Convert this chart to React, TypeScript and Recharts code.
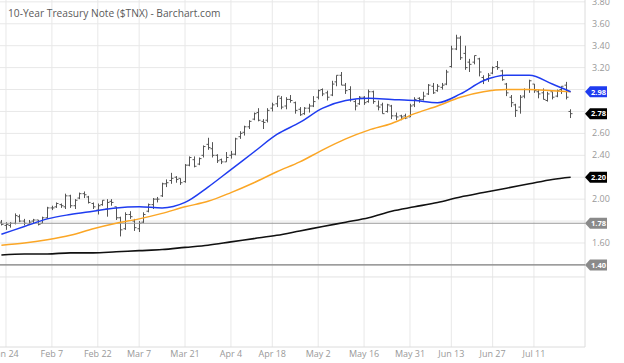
import React from 'react';
import { ComposedChart, Bar, Line, XAxis, YAxis, CartesianGrid, ReferenceLine } from 'recharts';

// daily bars, Jan 21 - Jul 21
const dates = [
  'Jan 21', 'Jan 24', 'Jan 25', 'Jan 26', 'Jan 27', 'Jan 28', 'Jan 31',
  'Feb 1', 'Feb 2', 'Feb 3', 'Feb 4', 'Feb 7', 'Feb 8', 'Feb 9', 'Feb 10', 'Feb 11', 'Feb 14', 'Feb 15', 'Feb 16', 'Feb 17', 'Feb 18', 'Feb 22', 'Feb 23', 'Feb 24', 'Feb 25', 'Feb 28',
  'Mar 1', 'Mar 2', 'Mar 3', 'Mar 4', 'Mar 7', 'Mar 8', 'Mar 9', 'Mar 10', 'Mar 11', 'Mar 14', 'Mar 15', 'Mar 16', 'Mar 17', 'Mar 18', 'Mar 21', 'Mar 22', 'Mar 23', 'Mar 24', 'Mar 25', 'Mar 28', 'Mar 29', 'Mar 30', 'Mar 31',
  'Apr 1', 'Apr 4', 'Apr 5', 'Apr 6', 'Apr 7', 'Apr 8', 'Apr 11', 'Apr 12', 'Apr 13', 'Apr 14', 'Apr 18', 'Apr 19', 'Apr 20', 'Apr 21', 'Apr 22', 'Apr 25', 'Apr 26', 'Apr 27', 'Apr 28', 'Apr 29',
  'May 2', 'May 3', 'May 4', 'May 5', 'May 6', 'May 9', 'May 10', 'May 11', 'May 12', 'May 13', 'May 16', 'May 17', 'May 18', 'May 19', 'May 20', 'May 23', 'May 24', 'May 25', 'May 26', 'May 27', 'May 31',
  'Jun 1', 'Jun 2', 'Jun 3', 'Jun 6', 'Jun 7', 'Jun 8', 'Jun 9', 'Jun 10', 'Jun 13', 'Jun 14', 'Jun 15', 'Jun 16', 'Jun 17', 'Jun 21', 'Jun 22', 'Jun 23', 'Jun 24', 'Jun 27', 'Jun 28', 'Jun 29', 'Jun 30',
  'Jul 1', 'Jul 5', 'Jul 6', 'Jul 7', 'Jul 8', 'Jul 11', 'Jul 12', 'Jul 13', 'Jul 14', 'Jul 15', 'Jul 18', 'Jul 19', 'Jul 20', 'Jul 21',
];

const opens = [
  1.79, 1.76, 1.76, 1.78, 1.84, 1.80, 1.77,
  1.80, 1.81, 1.78, 1.83, 1.92, 1.93, 1.95, 1.93, 2.03, 1.94, 2.01, 2.05, 2.02, 1.96, 1.90, 1.95, 1.91, 1.98, 1.93,
  1.83, 1.73, 1.86, 1.80, 1.73, 1.79, 1.89, 1.95, 2.00, 2.03, 2.14, 2.17, 2.20, 2.19, 2.16, 2.31, 2.36, 2.32, 2.40, 2.50, 2.46, 2.40, 2.36,
  2.34, 2.40, 2.41, 2.57, 2.61, 2.66, 2.73, 2.79, 2.71, 2.72, 2.83, 2.87, 2.92, 2.85, 2.91, 2.88, 2.82, 2.78, 2.83, 2.85,
  2.93, 3.00, 2.97, 2.95, 3.07, 3.13, 3.04, 3.00, 2.89, 2.87, 2.93, 2.89, 2.98, 2.85, 2.86, 2.80, 2.85, 2.76, 2.76, 2.76, 2.75,
  2.86, 2.92, 2.91, 2.96, 3.03, 2.99, 3.02, 3.05, 3.21, 3.37, 3.47, 3.33, 3.25, 3.25, 3.28, 3.11, 3.10, 3.15, 3.21, 3.17, 3.05,
  2.93, 2.86, 2.84, 2.94, 3.00, 3.05, 2.98, 2.97, 2.90, 2.98, 2.94, 3.00, 3.04, 2.80,
];

const highs = [
  1.81, 1.79, 1.79, 1.87, 1.86, 1.82, 1.81,
  1.82, 1.81, 1.84, 1.93, 1.94, 1.97, 1.96, 2.05, 2.04, 2.00, 2.06, 2.07, 2.03, 1.97, 1.96, 1.99, 2.00, 2.00, 1.93,
  1.84, 1.88, 1.89, 1.82, 1.80, 1.88, 1.96, 2.01, 2.02, 2.15, 2.18, 2.24, 2.21, 2.19, 2.32, 2.39, 2.39, 2.38, 2.49, 2.56, 2.52, 2.41, 2.37,
  2.43, 2.44, 2.56, 2.62, 2.67, 2.72, 2.79, 2.83, 2.73, 2.83, 2.88, 2.94, 2.94, 2.93, 2.95, 2.89, 2.84, 2.84, 2.87, 2.94,
  3.00, 3.01, 2.99, 3.08, 3.13, 3.16, 3.06, 3.03, 2.91, 2.94, 2.94, 3.00, 2.99, 2.90, 2.88, 2.87, 2.86, 2.79, 2.77, 2.78, 2.87,
  2.93, 2.93, 2.98, 3.05, 3.06, 3.05, 3.06, 3.18, 3.40, 3.50, 3.49, 3.40, 3.28, 3.31, 3.29, 3.13, 3.15, 3.21, 3.26, 3.18, 3.06,
  2.95, 2.87, 2.95, 3.01, 3.09, 3.05, 3.00, 3.01, 2.98, 2.98, 3.00, 3.03, 3.07, 2.82,
];

const lows = [
  1.76, 1.72, 1.74, 1.77, 1.79, 1.76, 1.77,
  1.78, 1.76, 1.78, 1.82, 1.90, 1.92, 1.92, 1.91, 1.92, 1.91, 2.00, 2.01, 1.96, 1.91, 1.86, 1.94, 1.84, 1.94, 1.81,
  1.66, 1.72, 1.82, 1.71, 1.70, 1.78, 1.88, 1.91, 1.97, 2.02, 2.11, 2.14, 2.15, 2.13, 2.15, 2.30, 2.29, 2.31, 2.38, 2.45, 2.38, 2.33, 2.32,
  2.34, 2.37, 2.40, 2.55, 2.58, 2.64, 2.72, 2.71, 2.64, 2.70, 2.80, 2.84, 2.82, 2.82, 2.88, 2.78, 2.76, 2.77, 2.79, 2.84,
  2.91, 2.94, 2.90, 2.94, 3.03, 3.04, 2.96, 2.89, 2.81, 2.86, 2.86, 2.88, 2.87, 2.81, 2.78, 2.79, 2.73, 2.72, 2.72, 2.73, 2.75,
  2.84, 2.88, 2.90, 2.95, 2.96, 2.98, 3.00, 3.04, 3.20, 3.36, 3.27, 3.18, 3.16, 3.23, 3.12, 3.05, 3.07, 3.14, 3.18, 3.08, 2.94,
  2.84, 2.75, 2.78, 2.92, 2.97, 2.97, 2.92, 2.91, 2.89, 2.91, 2.93, 2.96, 2.91, 2.74,
];

const closes = [
  1.77, 1.77, 1.78, 1.85, 1.80, 1.78, 1.79,
  1.81, 1.77, 1.83, 1.92, 1.92, 1.96, 1.94, 2.03, 1.94, 1.99, 2.05, 2.04, 1.97, 1.93, 1.94, 1.99, 1.97, 1.97, 1.83,
  1.72, 1.86, 1.84, 1.74, 1.78, 1.86, 1.95, 2.00, 2.00, 2.14, 2.15, 2.19, 2.18, 2.15, 2.31, 2.38, 2.30, 2.37, 2.48, 2.47, 2.40, 2.35, 2.34,
  2.38, 2.41, 2.55, 2.60, 2.66, 2.71, 2.78, 2.72, 2.70, 2.81, 2.86, 2.94, 2.84, 2.91, 2.90, 2.81, 2.77, 2.83, 2.85, 2.89,
  2.99, 2.96, 2.93, 3.05, 3.13, 3.04, 2.99, 2.91, 2.85, 2.93, 2.88, 2.98, 2.89, 2.84, 2.78, 2.86, 2.76, 2.75, 2.75, 2.74, 2.85,
  2.91, 2.91, 2.94, 3.04, 2.97, 3.03, 3.04, 3.16, 3.37, 3.47, 3.29, 3.20, 3.23, 3.31, 3.16, 3.09, 3.13, 3.20, 3.20, 3.09, 2.97,
  2.88, 2.81, 2.93, 3.00, 3.08, 2.99, 2.96, 2.91, 2.96, 2.93, 2.99, 3.03, 2.93, 2.78,
];

const tickDates = ['Jan 24', 'Feb 7', 'Feb 22', 'Mar 7', 'Mar 21', 'Apr 4', 'Apr 18', 'May 2', 'May 16', 'May 31', 'Jun 13', 'Jun 27', 'Jul 11'];

// moving averages, read every 5 bars
const maBars = [0, 5, 10, 15, 20, 25, 30, 35, 40, 45, 50, 55, 60, 65, 70, 75, 80, 85, 90, 95, 100, 105, 110, 115, 120, 124];
const ma20 = [1.68, 1.75, 1.82, 1.86, 1.89, 1.92, 1.93, 1.92, 1.97, 2.11, 2.27, 2.43, 2.59, 2.70, 2.83, 2.90, 2.92, 2.91, 2.90, 2.88, 2.96, 3.08, 3.13, 3.13, 3.05, 2.98];
const ma50 = [1.58, 1.60, 1.63, 1.67, 1.73, 1.78, 1.82, 1.87, 1.93, 1.98, 2.06, 2.15, 2.25, 2.34, 2.45, 2.55, 2.63, 2.69, 2.78, 2.85, 2.93, 2.98, 3.00, 3.00, 2.99, 2.98];
const ma200 = [1.49, 1.50, 1.50, 1.51, 1.51, 1.52, 1.53, 1.54, 1.56, 1.58, 1.61, 1.64, 1.67, 1.71, 1.75, 1.79, 1.83, 1.89, 1.93, 1.97, 2.02, 2.06, 2.10, 2.14, 2.18, 2.20];

const gridTicks = [1.4, 1.6, 1.8, 2.0, 2.2, 2.4, 2.6, 2.8, 3.0, 3.2, 3.4, 3.6, 3.8];
const labelTicks = [1.6, 2.0, 2.4, 2.6, 3.2, 3.4, 3.6, 3.8];
const levelLines = [1.78, 1.40];
const badgeValues = [2.98, 2.78, 2.20, 1.78, 1.40];
const badgeColors = ['#1f3cf0', '#000000', '#000000', '#8a8a8a', '#8a8a8a'];

const X_MIN = -0.305;
const X_MAX = 127.12;
const Y_MIN = 0.651;
const Y_MAX = 3.817;
const FONT = '"Open Sans", sans-serif';

const bars = dates.map((date, i) => ({
  i,
  date,
  open: opens[i],
  high: highs[i],
  low: lows[i],
  close: closes[i],
  range: [lows[i], highs[i]],
}));

const toLine = (vals: number[]) => maBars.map((i, k) => ({ i, v: vals[k] }));

function OhlcBar(props: any) {
  const { x, y, width, height, payload } = props;
  if (!payload) return null;
  const cx = Math.round(x + width / 2) + 0.5;
  const top = Math.min(y, y + height);
  const h = Math.abs(height);
  const span = payload.high - payload.low;
  const pos = (v: number) => (span > 0 ? top + ((payload.high - v) / span) * h : top);
  return (
    <g stroke="#555" strokeWidth={1}>
      <line x1={cx} x2={cx} y1={top} y2={top + Math.max(h, 1)} />
      <line x1={cx - 2} x2={cx} y1={pos(payload.open)} y2={pos(payload.open)} />
      <line x1={cx} x2={cx + 2} y1={pos(payload.close)} y2={pos(payload.close)} />
    </g>
  );
}

function Badge({ x, y, value, color }: any) {
  const path = `M${x},${y} L${x + 5},${y - 5.5} L${x + 22},${y - 5.5} L${x + 22},${y + 5.5} L${x + 5},${y + 5.5} Z`;
  return (
    <g>
      <path d={path} fill={color} />
      <text x={x + 13.5} y={y + 2.8} fill="#fff" fontSize={7.5} fontWeight={700} textAnchor="middle" fontFamily={FONT}>
        {value.toFixed(2)}
      </text>
    </g>
  );
}

function XTick(props: any) {
  const { x, payload } = props;
  return (
    <text x={x} y={357} fill="#999" fontSize={9} textAnchor="middle" fontFamily={FONT}>
      {dates[payload.value]}
    </text>
  );
}

function YTick(props: any) {
  const { x, y, payload } = props;
  const b = badgeValues.findIndex((v) => Math.abs(v - payload.value) < 1e-6);
  if (b >= 0) return <Badge x={x - 7} y={y} value={badgeValues[b]} color={badgeColors[b]} />;
  return (
    <text x={x} y={y + 3} fill="#999" fontSize={9} textAnchor="start" fontFamily={FONT}>
      {payload.value.toFixed(2)}
    </text>
  );
}

export default function App() {
  const xTicks = tickDates.map((d) => dates.indexOf(d));
  const yTicks = [...labelTicks, ...badgeValues].sort((a, b) => a - b);

  return (
    <div style={{ position: 'relative', width: 624, height: 363, background: '#fff' }}>
      <style>{'body{margin:0}'}</style>
      <ComposedChart width={624} height={363} data={bars} margin={{ top: 0, right: 0, bottom: 0, left: 0 }}>
        <CartesianGrid stroke="#e8e8e8" horizontalValues={gridTicks} verticalValues={xTicks} />
        <XAxis
          dataKey="i"
          type="number"
          domain={[X_MIN, X_MAX]}
          ticks={xTicks}
          interval={0}
          tick={<XTick />}
          tickLine={false}
          axisLine={false}
          height={16}
          allowDataOverflow
        />
        <YAxis
          orientation="right"
          type="number"
          domain={[Y_MIN, Y_MAX]}
          ticks={yTicks}
          interval={0}
          tick={<YTick />}
          tickLine={false}
          axisLine={false}
          tickSize={0}
          tickMargin={7}
          width={39}
          allowDataOverflow
        />
        <ReferenceLine y={1.29} stroke="#e2e2e2" />
        <ReferenceLine y={Y_MIN} stroke="#dcdcdc" />
        <ReferenceLine x={X_MAX} stroke="#dcdcdc" />
        {levelLines.map((v, k) => (
          <ReferenceLine key={v} y={v} stroke={k === 0 ? '#999' : '#808080'} strokeWidth={1.2} />
        ))}
        <Bar dataKey="range" barSize={4} shape={<OhlcBar />} isAnimationActive={false} />
        <Line data={toLine(ma200)} dataKey="v" type="monotone" stroke="#111" strokeWidth={1.6} dot={false} activeDot={false} isAnimationActive={false} />
        <Line data={toLine(ma50)} dataKey="v" type="monotone" stroke="#fba625" strokeWidth={1.5} dot={false} activeDot={false} isAnimationActive={false} />
        <Line data={toLine(ma20)} dataKey="v" type="monotone" stroke="#1f3cf0" strokeWidth={1.5} dot={false} activeDot={false} isAnimationActive={false} />
      </ComposedChart>
      <div
        style={{
          position: 'absolute',
          left: 8,
          top: 6,
          fontFamily: FONT,
          fontSize: 10.2,
          color: '#5a5a5a',
          whiteSpace: 'nowrap',
        }}
      >
        10-Year Treasury Note ($TNX) - Barchart.com
      </div>
    </div>
  );
}
